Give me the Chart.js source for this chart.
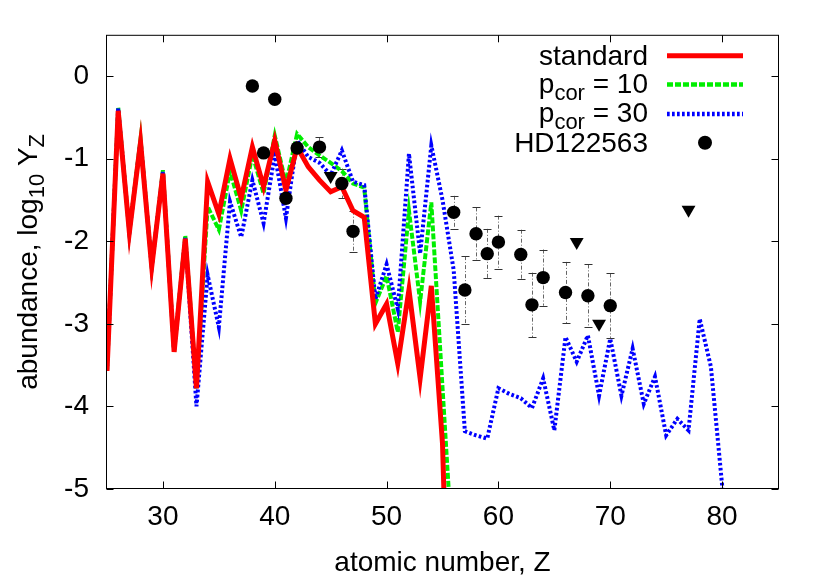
<!DOCTYPE html>
<html>
<head>
<meta charset="utf-8">
<script src="https://cdn.jsdelivr.net/npm/chart.js@4/dist/chart.umd.min.js"></script>
<style>
html, body { margin: 0; padding: 0; background: #fff; }
canvas { display: block; }
</style>
</head>
<body>
<canvas id="chart" width="830" height="581"></canvas>
<script>
// model abundances, one value per atomic number Z
const zModel = [25,26,27,28,29,30,31,32,33,34,35,36,37,38,39,40,41,42,43,44,45,46,47,48,49,50,
  51,52,53,54,55,56,57,58,59,60,61,62,63,64,65,66,67,68,69,70,71,72,73,74,75,76,77,78,79,80,81];

const standard = [-3.57,-0.42,-1.89,-0.80,-2.31,-1.18,-3.34,-1.97,-3.78,-1.28,
  -1.67,-1.00,-1.48,-0.86,-1.34,-0.78,-1.38,-0.86,-1.10,-1.26,
  -1.40,-1.34,-1.63,-1.71,-3.00,-2.76,-3.48,-2.59,-3.66,-2.54,
  -4.45,-9.0];

const pcor10 = [-3.57,-0.38,-1.89,-0.76,-2.31,-1.14,-3.34,-1.93,-3.78,-1.58,
  -1.86,-1.15,-1.63,-0.95,-1.42,-0.72,-1.30,-0.70,-0.86,-0.96,
  -1.05,-1.15,-1.30,-1.35,-2.75,-2.42,-3.10,-1.63,-2.73,-1.53,
  -3.77,-6.0];

const pcor30 = [-3.57,-0.39,-1.89,-0.78,-2.31,-1.16,-3.34,-1.96,-4.00,-2.41,
  -3.04,-1.52,-1.95,-1.26,-1.78,-0.95,-1.72,-0.78,-0.98,-1.05,
  -1.20,-0.90,-1.28,-1.32,-2.70,-2.28,-2.82,-0.94,-2.15,-0.84,
  -1.50,-2.35,-4.30,-4.35,-4.39,-3.78,-3.85,-3.90,-4.02,-3.66,
  -4.29,-3.16,-3.46,-3.14,-3.87,-3.18,-3.87,-3.30,-3.97,-3.64,
  -4.35,-4.15,-4.29,-2.94,-3.52,-4.95,-8.0];

// HD122563 observations
const hdZ   = [38,39,40,41,42,44,46,47,56,57,58,59,60,62,63,64,66,68,70];
const hdVal = [-0.12,-0.93,-0.28,-1.48,-0.87,-0.86,-1.30,-1.88,-1.65,-2.59,-1.91,-2.15,-2.01,-2.16,-2.77,-2.44,-2.62,-2.66,-2.78];
const hdErr = [0,0,0,0,0,0.12,0.18,0.25,0.20,0.41,0.32,0.30,0.32,0.30,0.39,0.34,0.37,0.38,0.39];

// upper limits
const limZ   = [45,67,69,77];
const limVal = [-1.21,-2.01,-3.00,-1.62];

const xTickVals = [30,40,50,60,70,80];
const yTickVals = [-5,-4,-3,-2,-1,0];

const FONT = "'Liberation Sans', Arial, sans-serif";
const MAIN = '28px ' + FONT;
const SUB = '22px ' + FONT;

function pts(xs, ys) {
  return ys.map((v, i) => ({ x: xs[i], y: v }));
}

// text with subscripts, parts = [[text, isSub], ...]
function drawRich(ctx, parts, x, y, align) {
  let total = 0;
  const widths = parts.map(p => {
    ctx.font = p[1] ? SUB : MAIN;
    const w = ctx.measureText(p[0]).width;
    total += w;
    return w;
  });
  let cx = align === 'right' ? x - total : (align === 'center' ? x - total / 2 : x);
  ctx.textAlign = 'left';
  ctx.textBaseline = 'alphabetic';
  parts.forEach((p, i) => {
    ctx.font = p[1] ? SUB : MAIN;
    ctx.fillText(p[0], cx, y + (p[1] ? 7 : 0));
    cx += widths[i];
  });
}

const decor = {
  id: 'decor',
  beforeDatasetsDraw(chart) {
    const { ctx, chartArea: a, scales: { x, y } } = chart;
    ctx.save();
    ctx.beginPath();
    ctx.rect(a.left, a.top, a.right - a.left, a.bottom - a.top);
    ctx.clip();
    ctx.lineWidth = 1;
    hdZ.forEach((z, i) => {
      const e = hdErr[i];
      if (!e) return;
      const px = Math.round(x.getPixelForValue(z)) + 0.5;
      const y1 = y.getPixelForValue(hdVal[i] + e);
      const y2 = y.getPixelForValue(hdVal[i] - e);
      ctx.strokeStyle = '#666';
      ctx.setLineDash([4, 2, 1, 2]);
      ctx.beginPath();
      ctx.moveTo(px, y1);
      ctx.lineTo(px, y2);
      ctx.stroke();
      ctx.setLineDash([]);
      ctx.strokeStyle = '#333';
      ctx.beginPath();
      ctx.moveTo(px - 4, Math.round(y1) + 0.5);
      ctx.lineTo(px + 4, Math.round(y1) + 0.5);
      ctx.moveTo(px - 4, Math.round(y2) + 0.5);
      ctx.lineTo(px + 4, Math.round(y2) + 0.5);
      ctx.stroke();
    });
    ctx.restore();
  },
  afterDraw(chart) {
    const { ctx, chartArea: a, scales: { x, y } } = chart;
    ctx.save();
    // frame and inward ticks on all sides
    ctx.strokeStyle = '#000';
    ctx.lineWidth = 1;
    const L = a.left - 0.5, R = a.right + 0.5, T = a.top + 0.5, B = a.bottom - 0.5;
    ctx.strokeRect(L, T, R - L, B - T);
    ctx.beginPath();
    xTickVals.forEach(v => {
      const px = Math.round(x.getPixelForValue(v)) + 0.5;
      ctx.moveTo(px, B); ctx.lineTo(px, B - 7);
      ctx.moveTo(px, T); ctx.lineTo(px, T + 7);
    });
    yTickVals.forEach(v => {
      const py = Math.round(y.getPixelForValue(v)) + 0.5;
      ctx.moveTo(L, py); ctx.lineTo(L + 7, py);
      ctx.moveTo(R, py); ctx.lineTo(R - 7, py);
    });
    ctx.stroke();

    ctx.fillStyle = '#000';
    // axis titles
    drawRich(ctx, [['atomic number, Z', false]], (a.left + a.right) / 2, 571, 'center');
    ctx.save();
    ctx.translate(37, (a.top + a.bottom) / 2);
    ctx.rotate(-Math.PI / 2);
    drawRich(ctx, [['abundance, log', false], ['10', true], [' Y', false], ['Z', true]], 0, 0, 'center');
    ctx.restore();

    // legend
    const tx = 648, lx1 = 667, lx2 = 743;
    drawRich(ctx, [['standard', false]], tx, 65, 'right');
    drawRich(ctx, [['p', false], ['cor', true], [' = 10', false]], tx, 93, 'right');
    drawRich(ctx, [['p', false], ['cor', true], [' = 30', false]], tx, 122, 'right');
    drawRich(ctx, [['HD122563', false]], tx, 151.5, 'right');

    const sample = (yy, color, w, dash) => {
      ctx.strokeStyle = color;
      ctx.lineWidth = w;
      ctx.setLineDash(dash);
      ctx.beginPath();
      ctx.moveTo(lx1, yy);
      ctx.lineTo(lx2, yy);
      ctx.stroke();
    };
    sample(55.7, '#ff0000', 5, []);
    sample(84.5, '#00ee00', 4.3, [6, 2]);
    sample(114, '#0000ff', 4.3, [2.7, 2.3]);
    ctx.setLineDash([]);
    ctx.beginPath();
    ctx.arc(705, 142.7, 7, 0, Math.PI * 2);
    ctx.fill();
    ctx.restore();
  }
};

Chart.defaults.font.family = FONT;
Chart.defaults.font.size = 28;
Chart.defaults.color = '#000';

new Chart(document.getElementById('chart'), {
  type: 'line',
  data: {
    datasets: [
      {
        label: 'HD122563',
        data: pts(hdZ, hdVal),
        showLine: false,
        pointRadius: 6.7,
        pointBackgroundColor: '#000',
        pointBorderWidth: 0,
        borderColor: '#000',
        order: 0
      },
      {
        label: 'limits',
        data: pts(limZ, limVal),
        showLine: false,
        pointStyle: 'triangle',
        pointRotation: 180,
        pointRadius: 8,
        pointBackgroundColor: '#000',
        pointBorderWidth: 0,
        borderColor: '#000',
        order: 0
      },
      {
        label: 'standard',
        data: pts(zModel, standard),
        borderColor: '#ff0000',
        borderWidth: 5,
        pointRadius: 0,
        tension: 0,
        clip: 0,
        order: 1
      },
      {
        label: 'p_cor = 30',
        data: pts(zModel, pcor30),
        borderColor: '#0000ff',
        borderWidth: 4,
        borderDash: [2.7, 2.3],
        pointRadius: 0,
        tension: 0,
        clip: 0,
        order: 2
      },
      {
        label: 'p_cor = 10',
        data: pts(zModel, pcor10),
        borderColor: '#00ee00',
        borderWidth: 4,
        borderDash: [6, 2],
        pointRadius: 0,
        tension: 0,
        clip: 0,
        order: 3
      }
    ]
  },
  options: {
    responsive: false,
    animation: false,
    events: [],
    layout: { padding: { top: 34, right: 52, left: 0, bottom: 0 } },
    plugins: {
      legend: { display: false },
      tooltip: { enabled: false }
    },
    scales: {
      x: {
        type: 'linear',
        min: 25,
        max: 85,
        grid: { display: false, drawTicks: false },
        border: { display: false },
        ticks: { padding: 11, maxRotation: 0, autoSkip: false, callback: v => String(v) },
        afterBuildTicks: s => { s.ticks = xTickVals.map(v => ({ value: v })); },
        afterFit: s => { s.height = 92; }
      },
      y: {
        type: 'linear',
        min: -5,
        max: 0.5,
        grid: { display: false, drawTicks: false },
        border: { display: false },
        ticks: { padding: 18, autoSkip: false, callback: v => String(v) },
        afterBuildTicks: s => { s.ticks = yTickVals.map(v => ({ value: v })); },
        afterFit: s => { s.width = 107; }
      }
    }
  },
  plugins: [decor]
});
</script>
</body>
</html>
